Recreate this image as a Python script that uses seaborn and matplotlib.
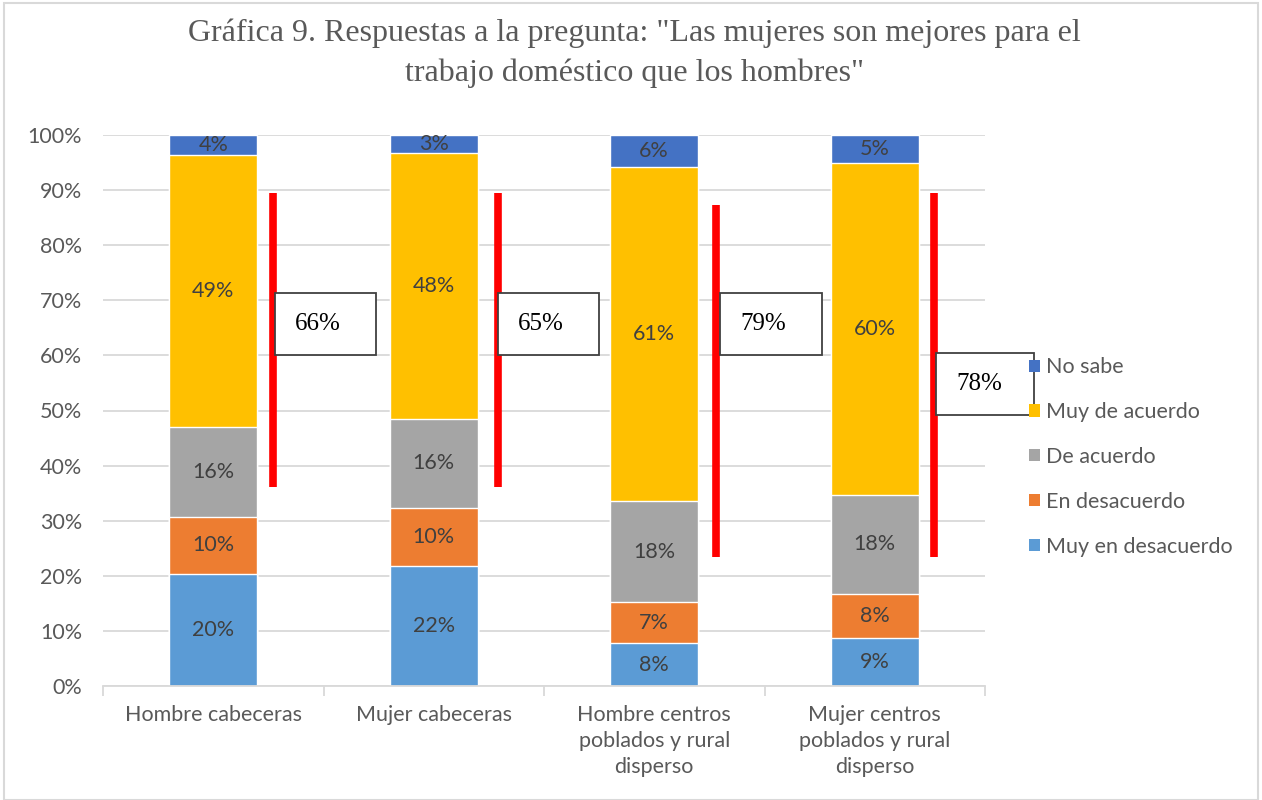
import matplotlib

matplotlib.use("Agg")

import matplotlib.pyplot as plt
import numpy as np
import pandas as pd
import seaborn as sns
from matplotlib.patches import Patch, Rectangle

categories = [
    "Hombre cabeceras",
    "Mujer cabeceras",
    "Hombre centros\npoblados y rural\ndisperso",
    "Mujer centros\npoblados y rural\ndisperso",
]
series = ["Muy en desacuerdo", "En desacuerdo", "De acuerdo", "Muy de acuerdo", "No sabe"]
muy_en_desacuerdo = [20.3, 21.8, 7.8, 8.7]
en_desacuerdo = [10.4, 10.5, 7.4, 8.0]
de_acuerdo = [16.3, 16.2, 18.4, 18.0]
muy_de_acuerdo = [49.4, 48.3, 60.6, 60.2]
no_sabe = [3.6, 3.2, 5.8, 5.1]
colors = ["#5B9BD5", "#ED7D31", "#A5A5A5", "#FFC000", "#4472C4"]

# red bracket lines and boxed totals
totals = ["66%", "65%", "79%", "78%"]
line_bottom = [36.1, 36.1, 23.4, 23.4]
line_top = [89.5, 89.5, 87.3, 89.5]

# layout of the annotations (offsets from the category centre)
line_dx = [0.27, 0.29, 0.28, 0.27]
box_dx = [0.28, 0.29, 0.30, 0.28]
box_w = [0.46, 0.46, 0.46, 0.44]
box_y = [60.1, 60.1, 60.1, 49.2]
box_h = 11.2

sns.set_theme(style="white")
plt.rcParams["font.family"] = ["Lato", "DejaVu Sans"]

values = [muy_en_desacuerdo, en_desacuerdo, de_acuerdo, muy_de_acuerdo, no_sabe]
cum = np.cumsum(np.array(values), axis=0)
df = pd.DataFrame({"cat": categories})
for name, col in zip(series, cum):
    df[name] = col

fig = plt.figure(figsize=(12.62, 8.0), dpi=100)
ax = fig.add_axes([103 / 1262, 114 / 800, 882 / 1262, 551 / 800])

# stacked bars: draw cumulative totals from the top layer down
for name, color in reversed(list(zip(series, colors))):
    sns.barplot(data=df, x="cat", y=name, order=categories, color=color,
                saturation=1, width=0.4, errorbar=None, ax=ax, zorder=2)

for s, vals in enumerate(values):
    for i, v in enumerate(vals):
        base = cum[s][i] - v
        ax.text(i, base + v / 2, f"{round(v)}%", ha="center", va="center",
                fontsize=15.5, color="#404040", zorder=4)

for i in range(len(categories)):
    ax.plot([i + line_dx[i]] * 2, [line_bottom[i], line_top[i]], color="#FF0000",
            lw=5.5, solid_capstyle="butt", zorder=3, clip_on=False)
    ax.add_patch(Rectangle((i + box_dx[i], box_y[i]), box_w[i], box_h, facecolor="white",
                           edgecolor="#404040", lw=1.3, zorder=5, clip_on=False))
    ax.text(i + box_dx[i] + 0.09, box_y[i] + box_h / 2, totals[i], ha="left", va="center",
            fontsize=18, family="Liberation Serif", color="black", zorder=6)

ax.set_ylim(0, 100)
ax.set_xlim(-0.5, 3.5)
ax.set_yticks(range(0, 101, 10))
ax.set_yticklabels([f"{v}%" for v in range(0, 101, 10)])
ax.yaxis.grid(True, color="#D9D9D9", lw=1.3, zorder=0)
ax.set_axisbelow(True)
ax.set_xlabel("")
ax.set_ylabel("")
for side in ["top", "right", "left"]:
    ax.spines[side].set_visible(False)
ax.spines["bottom"].set_color("#D9D9D9")
ax.spines["bottom"].set_linewidth(1.3)
ax.set_xticks(np.arange(-0.5, 4, 1), minor=True)
ax.tick_params(axis="x", which="minor", length=7, color="#D9D9D9", width=1.3, bottom=True)
ax.tick_params(axis="x", which="major", length=0, pad=14, labelsize=15.5, labelcolor="#595959")
ax.tick_params(axis="y", length=0, pad=15, labelsize=15.5, labelcolor="#595959")
for lbl in ax.get_xticklabels():
    lbl.set_linespacing(1.37)
    lbl.set_verticalalignment("top")

handles = [Patch(facecolor=c, edgecolor="none") for c in reversed(colors)]
fig.legend(handles, list(reversed(series)), loc="center left",
           bbox_to_anchor=(1018 / 1262, 343 / 800), frameon=False, fontsize=15.5,
           labelcolor="#595959", handlelength=0.5, handleheight=0.5,
           handletextpad=0.3, labelspacing=1.15, borderpad=0)

fig.text(0.503, 0.977, "Gráfica 9. Respuestas a la pregunta: \"Las mujeres son mejores para el\n"
         "trabajo doméstico que los hombres\"", ha="center", va="top",
         family="Liberation Serif", fontsize=23, color="#595959", linespacing=1.45)

fig.patches.append(Rectangle((4 / 1262, 0), 1 - 8 / 1262, 1 - 3 / 800, transform=fig.transFigure,
                             fill=False, edgecolor="#D9D9D9", lw=1.5))

fig.savefig("out.png", dpi=100)
